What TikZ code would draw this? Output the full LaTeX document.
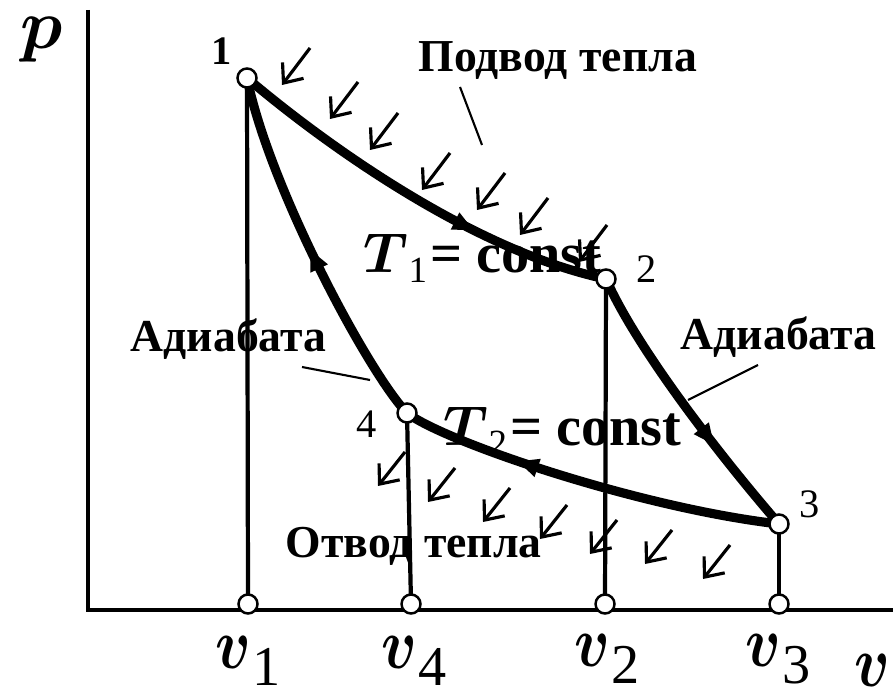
\RequirePackage{fix-cm}
\documentclass[tikz,border=0pt]{standalone}
\usepackage{bm}
\usepackage{graphicx}
\usepackage{fontspec}
\setmainfont{Liberation Serif}
\usepackage{tikz}
\usetikzlibrary{arrows.meta,decorations.markings}
\newcommand{\vsym}{\scalebox{0.82}[1]{$\bm{v}$}}
\newcommand{\vsub}[1]{\vsym\kern0.5pt\raisebox{-5pt}{\fontsize{16}{17}\selectfont #1}}
\newcommand{\tsub}[1]{$\bm{T}$\raisebox{-2.8pt}{\fontsize{10.5}{12}\selectfont #1}\kern1pt\textbf{= const}}

\begin{document}
\begin{tikzpicture}[x=0.01cm,y=-0.01cm,
  pt/.style={circle,draw,fill=white,line width=0.7pt,inner sep=0pt,minimum size=1.9mm},
  cycle/.style={line width=2.6pt,postaction={decorate},
    decoration={markings,mark=at position #1 with {\arrow{Triangle[length=6pt,width=5pt]}}}},
  heat/.style={line width=0.9pt,-{Straight Barb[length=4.5pt,width=7.5pt]}},
  lead/.style={line width=0.6pt},
  lbl/.style={font=\fontsize{13}{15}\selectfont\bfseries,inner sep=0pt,anchor=base west},
  num/.style={font=\fontsize{11.5}{13}\selectfont,anchor=base},
  ax/.style={font=\fontsize{20.5}{22}\selectfont,anchor=base,inner sep=1pt}]
  \useasboundingbox (0,0) rectangle (895,695);
  \coordinate (s1) at (247,78);
  \coordinate (s2) at (606,279);
  \coordinate (s3) at (779,524);
  \coordinate (s4) at (407,413);
  \coordinate (b1) at (248,604);
  \coordinate (b4) at (411,604);
  \coordinate (b2) at (605,604);
  \coordinate (b3) at (779,604);
  \draw[line width=1.4pt] (88,10) -- (88,610) -- (893,610);
  \draw[line width=1.2pt] (s1) -- (b1);
  \draw[line width=1.2pt] (s4) -- (b4);
  \draw[line width=1.2pt] (s2) -- (b2);
  \draw[line width=1.2pt] (s3) -- (b3);
  \node[font=\fontsize{16}{18}\selectfont,inner sep=0pt,anchor=base west] (t1) at (363,273) {\tsub{1}};
  \node[font=\fontsize{16}{18}\selectfont,inner sep=0pt,anchor=base west] (t2) at (443,446) {\tsub{2}};
  \draw[cycle=0.66] (s1) .. controls (320,140) and (470,250) .. (s2);
  \draw[cycle=0.66] (s2) .. controls (635,345) and (715,450) .. (s3);
  \draw[cycle=0.69] (s3) .. controls (640,508) and (445,442) .. (s4);
  \draw[cycle=0.51] (s4) .. controls (370,375) and (270,190) .. (s1);
  \foreach \x/\y in {310/48,358/82,398/113,450/153,505/173,548/198,607/225}
    \draw[heat] (\x,\y) -- ++(-28,37);
  \foreach \x/\y in {405/452,455/468,510/488,567/505,617/520,672/530,730/545}
    \draw[heat] (\x,\y) -- ++(-27,34);
  \node[pt] (n1) at (s1) {};
  \node[pt] (n2) at (s2) {};
  \node[pt] (n3) at (s3) {};
  \node[pt] (n4) at (s4) {};
  \node[pt] (m1) at (b1) {};
  \node[pt] (m4) at (b4) {};
  \node[pt] (m2) at (b2) {};
  \node[pt] (m3) at (b3) {};
  \node[num] (l1) at (222,65) {\textbf{1}};
  \node[num] (l2) at (647,283) {2};
  \node[num] (l3) at (810,518) {3};
  \node[num] (l4) at (367,438) {4};
  \node[lbl] (supply) at (418,72) {Подвод тепла};
  \node[lbl] (adl) at (130,352) {Адиабата};
  \node[lbl] (adr) at (680,350) {Адиабата};
  \node[lbl] (reject) at (285,557) {Отвод тепла};
  \coordinate (c1a) at (460,87);  \coordinate (c1b) at (482,145);
  \coordinate (c2a) at (302,367); \coordinate (c2b) at (370,380);
  \coordinate (c3a) at (758,365); \coordinate (c3b) at (688,400);
  \draw[lead] (c1a) -- (c1b);
  \draw[lead] (c2a) -- (c2b);
  \draw[lead] (c3a) -- (c3b);
  \node[ax,font=\fontsize{20}{22}\selectfont,inner sep=0pt] (pl) at (42,49) {$\bm{p}$};
  \node[ax] (v1) at (248,668) {\vsub{1}};
  \node[ax] (v4) at (414,668) {\vsub{4}};
  \node[ax] (v2) at (607,666) {\vsub{2}};
  \node[ax] (v3) at (778,666) {\vsub{3}};
  \node[ax] (vl) at (872,686) {\vsym};
\end{tikzpicture}
\end{document}
